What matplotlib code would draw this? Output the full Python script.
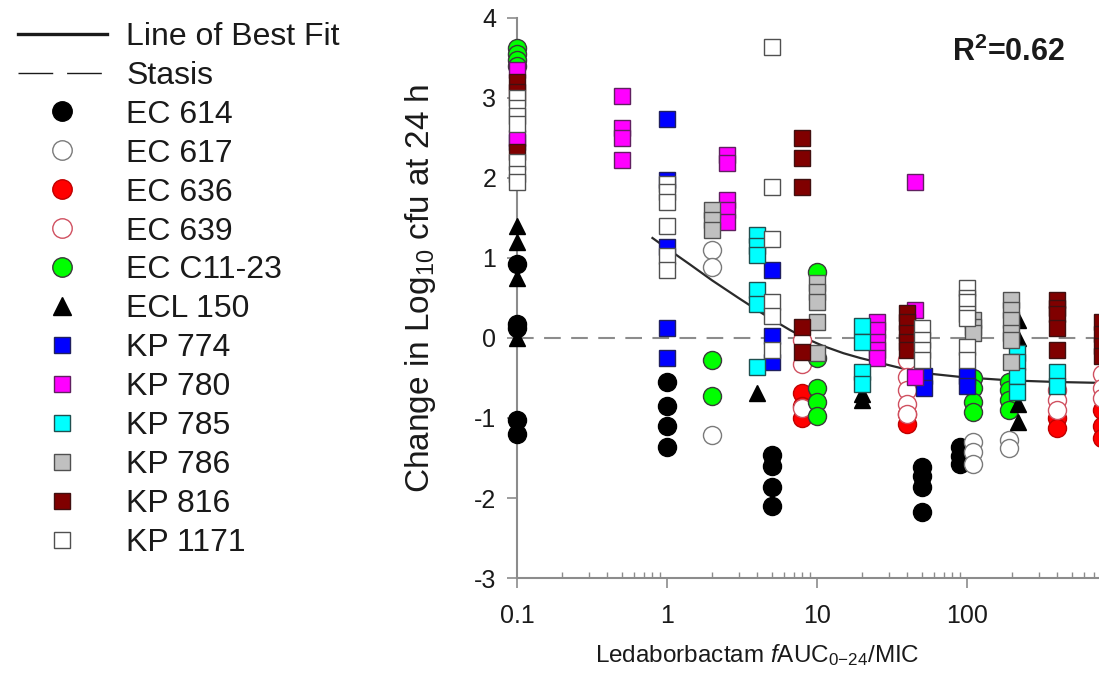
import matplotlib
matplotlib.use('Agg')
import matplotlib.pyplot as plt
from matplotlib.lines import Line2D
import numpy as np

plt.rcParams['font.family'] = ['Liberation Sans', 'DejaVu Sans']
plt.rcParams['mathtext.fontset'] = 'custom'
plt.rcParams['mathtext.rm'] = 'Liberation Sans'
plt.rcParams['mathtext.it'] = 'Liberation Sans:italic'
plt.rcParams['mathtext.bf'] = 'Liberation Sans:bold'
plt.rcParams['axes.unicode_minus'] = False

''' Data read off the figure (x = fAUC/MIC, y = change in log10 cfu) '''

ec614_x = [0.1, 0.1, 0.1, 0.1, 0.1, 1, 1, 1, 1, 5, 5, 5, 5, 50, 50, 50, 50, 90, 90, 90]
ec614_y = [0.93, 0.18, 0.12, -1.02, -1.2, -0.55, -0.85, -1.1, -1.36, -1.46, -1.6, -1.86, -2.1,
           -1.61, -1.73, -1.86, -2.17, -1.36, -1.48, -1.57]

ec617_x = [2, 2, 2, 110, 110, 110, 190, 190]
ec617_y = [1.1, 0.89, -1.21, -1.3, -1.42, -1.57, -1.28, -1.38]

ec636_x = [8, 8, 8, 40, 40, 400, 400, 800, 800, 800]
ec636_y = [-0.69, -0.85, -1.0, -0.95, -1.07, -1.0, -1.12, -0.9, -1.1, -1.25]

ec639_x = [8, 8, 8, 40, 40, 40, 40, 40, 400, 400, 400, 800, 800, 800]
ec639_y = [-0.02, -0.32, -0.88, -0.28, -0.49, -0.65, -0.82, -0.95, -0.65, -0.78, -0.9,
           -0.45, -0.62, -0.75]

ecc11_x = [0.1, 0.1, 0.1, 0.1, 2, 2, 10, 10, 10, 10, 10, 110, 110, 110, 110, 190, 190, 190, 190]
ecc11_y = [3.62, 3.55, 3.47, 3.4, -0.27, -0.73, 0.82, -0.25, -0.62, -0.8, -0.97,
           -0.5, -0.62, -0.8, -0.92, -0.55, -0.65, -0.78, -0.9]

ecl150_x = [0.1, 0.1, 0.1, 0.1, 4, 20, 20, 220, 220, 220, 220]
ecl150_y = [1.4, 1.2, 0.75, 0.0, -0.69, -0.7, -0.78, 0.22, 0.0, -0.82, -1.05]

kp774_x = [0.1, 1, 1, 1, 1, 1, 5, 5, 5, 52, 52, 100, 100]
kp774_y = [2.45, 2.74, 1.97, 1.14, 0.12, -0.25, 0.85, 0.02, -0.3, -0.47, -0.62, -0.48, -0.6]

kp780_x = [0.1, 0.1, 0.5, 0.5, 0.5, 0.5, 2.5, 2.5, 2.5, 2.5, 2.5, 25, 25, 25, 25, 25, 45, 45, 45]
kp780_y = [3.35, 2.5, 3.03, 2.63, 2.5, 2.22, 2.29, 2.19, 1.72, 1.6, 1.45,
           0.2, 0.1, -0.05, -0.15, -0.25, 1.95, 0.35, -0.49]

kp785_x = [4, 4, 4, 4, 4, 4, 20, 20, 20, 20, 215, 215, 215, 215, 400, 400]
kp785_y = [1.29, 1.15, 1.04, 0.6, 0.43, -0.36, 0.15, -0.05, -0.42, -0.58,
           -0.19, -0.3, -0.48, -0.67, -0.42, -0.6]

kp786_x = [2, 2, 2, 10, 10, 10, 10, 10, 110, 110, 110, 195, 195, 195, 195, 195, 195]
kp786_y = [1.6, 1.47, 1.35, 0.69, 0.58, 0.45, 0.2, -0.19, 0.22, 0.14, 0.06,
           0.47, 0.35, 0.22, 0.06, -0.02, -0.3]

kp816_x = [0.1, 0.1, 0.1, 8, 8, 8, 8, 8, 40, 40, 40, 40, 40, 400, 400, 400, 400, 400,
           800, 800, 800, 800]
kp816_y = [3.2, 3.08, 2.33, 2.5, 2.25, 1.89, 0.14, -0.17, 0.31, 0.2, 0.06, -0.05, -0.15,
           0.47, 0.38, 0.3, 0.13, -0.15, 0.2, 0.05, -0.1, -0.22]

kp1171_x = [0.1, 0.1, 0.1, 0.1, 0.1, 0.1, 0.1, 1, 1, 1, 1, 1, 1, 5, 5, 5, 5, 5, 5,
            50, 50, 50, 50, 100, 100, 100, 100, 100, 100, 100]
kp1171_y = [3.0, 2.88, 2.78, 2.68, 2.2, 2.05, 1.95, 1.93, 1.82, 1.7, 1.4, 1.02, 0.85,
            3.64, 1.89, 1.24, 0.45, 0.27, -0.15, 0.12, -0.02, -0.15, -0.28,
            0.62, 0.5, 0.45, 0.3, 0.25, -0.11, -0.28]

# line of best fit
fit_x = [0.8, 1.0, 1.42, 2, 3, 4.64, 6.6, 8.3, 11, 15, 19.4, 26, 37, 59, 94, 194, 400, 730, 1000]
fit_y = [1.25, 1.12, 0.92, 0.72, 0.5, 0.27, 0.1, 0.0, -0.1, -0.19, -0.25, -0.31, -0.38,
         -0.45, -0.49, -0.53, -0.55, -0.56, -0.56]

x_ticks = [0.1, 1, 10, 100, 1000]
x_tick_labels = ['0.1', '1', '10', '100', '']
y_ticks = [-3, -2, -1, 0, 1, 2, 3, 4]

# (label, x, y, marker, face, edge, size)
strains = [
    ('EC 614', ec614_x, ec614_y, 'o', 'black', 'black', 13),
    ('EC 617', ec617_x, ec617_y, 'o', 'white', '#7a7a7a', 13),
    ('EC 636', ec636_x, ec636_y, 'o', '#ff0000', '#c00000', 13),
    ('EC 639', ec639_x, ec639_y, 'o', 'white', '#d05060', 13),
    ('EC C11-23', ecc11_x, ecc11_y, 'o', '#00ff00', '#3a3a3a', 13),
    ('ECL 150', ecl150_x, ecl150_y, '^', 'black', 'black', 12),
    ('KP 774', kp774_x, kp774_y, 's', '#0000ff', '#202060', 11),
    ('KP 780', kp780_x, kp780_y, 's', '#ff00ff', '#602060', 11),
    ('KP 785', kp785_x, kp785_y, 's', '#00ffff', '#205050', 11),
    ('KP 786', kp786_x, kp786_y, 's', '#c0c0c0', '#505050', 11),
    ('KP 816', kp816_x, kp816_y, 's', '#800000', '#401010', 11),
    ('KP 1171', kp1171_x, kp1171_y, 's', 'white', '#505050', 11),
]

''' Figure '''
fig = plt.figure(figsize=(10.99, 6.94), dpi=100)
ax = fig.add_axes([517 / 1099, 1 - 578 / 694, 600 / 1099, 560 / 694])

axis_grey = '#8c8c8c'

ax.axhline(0, color=axis_grey, linewidth=1.5, dashes=(8, 5), zorder=1)
ax.plot(fit_x, fit_y, color='#2a2a2a', linewidth=1.6, zorder=2)

for label, xs, ys, marker, face, edge, size in strains:
    ax.plot(xs, ys, linestyle='none', marker=marker, markersize=size,
            markerfacecolor=face, markeredgecolor=edge, markeredgewidth=1.0,
            zorder=3, clip_on=False)

ax.set_xscale('log')
ax.set_xlim(0.1, 1000)
ax.set_ylim(-3, 4)
ax.set_xticks(x_ticks)
ax.set_xticklabels(x_tick_labels)
ax.set_yticks(y_ticks)

for side in ['top', 'right']:
    ax.spines[side].set_visible(False)
for side in ['left', 'bottom']:
    ax.spines[side].set_color(axis_grey)
    ax.spines[side].set_linewidth(1.5)
    ax.spines[side].set_zorder(0.5)

ax.tick_params(axis='both', which='major', colors=axis_grey, labelcolor='#1a1a1a',
               labelsize=18, length=7, width=1.2, direction='out', pad=8)
ax.tick_params(axis='x', which='major', pad=12)
ax.tick_params(axis='x', which='minor', colors=axis_grey, length=4, width=1.0, direction='in')
ax.patch.set_alpha(0)

fig.text(757 / 1099, 1 - 655 / 694, r'Ledaborbactam $\mathit{f}$AUC$_{0\mathrm{-}24}$/MIC',
         ha='center', va='center', fontsize=17.5, color='#1a1a1a')
fig.text(420 / 1099, 1 - 288 / 694, r'Change in Log$_{10}$ cfu at 24 h',
         ha='center', va='center', rotation=90, fontsize=24, color='#1a1a1a')
fig.text(952 / 1099, 1 - 52 / 694, r'R$^{\mathbf{2}}$=0.62', ha='left', va='center',
         fontsize=22, fontweight='bold', color='#1a1a1a')

''' Legend '''
handles = [Line2D([], [], color='#1a1a1a', linewidth=2.4),
           Line2D([], [], color='#1a1a1a', linewidth=1.0, dashes=(25, 10))]
labels = ['Line of Best Fit', 'Stasis']
for label, xs, ys, marker, face, edge, size in strains:
    handles.append(Line2D([], [], linestyle='none', marker=marker, markersize=size + 1,
                          markerfacecolor=face, markeredgecolor=edge, markeredgewidth=1.0))
    labels.append(label)

fig.legend(handles, labels, loc='upper left', bbox_to_anchor=(5 / 1099, 1 - 9 / 694),
           frameon=False, fontsize=23, handlelength=2.8, handletextpad=0.6,
           labelspacing=0.28, borderaxespad=0, labelcolor='#1a1a1a')

fig.savefig('out.png', dpi=100)
